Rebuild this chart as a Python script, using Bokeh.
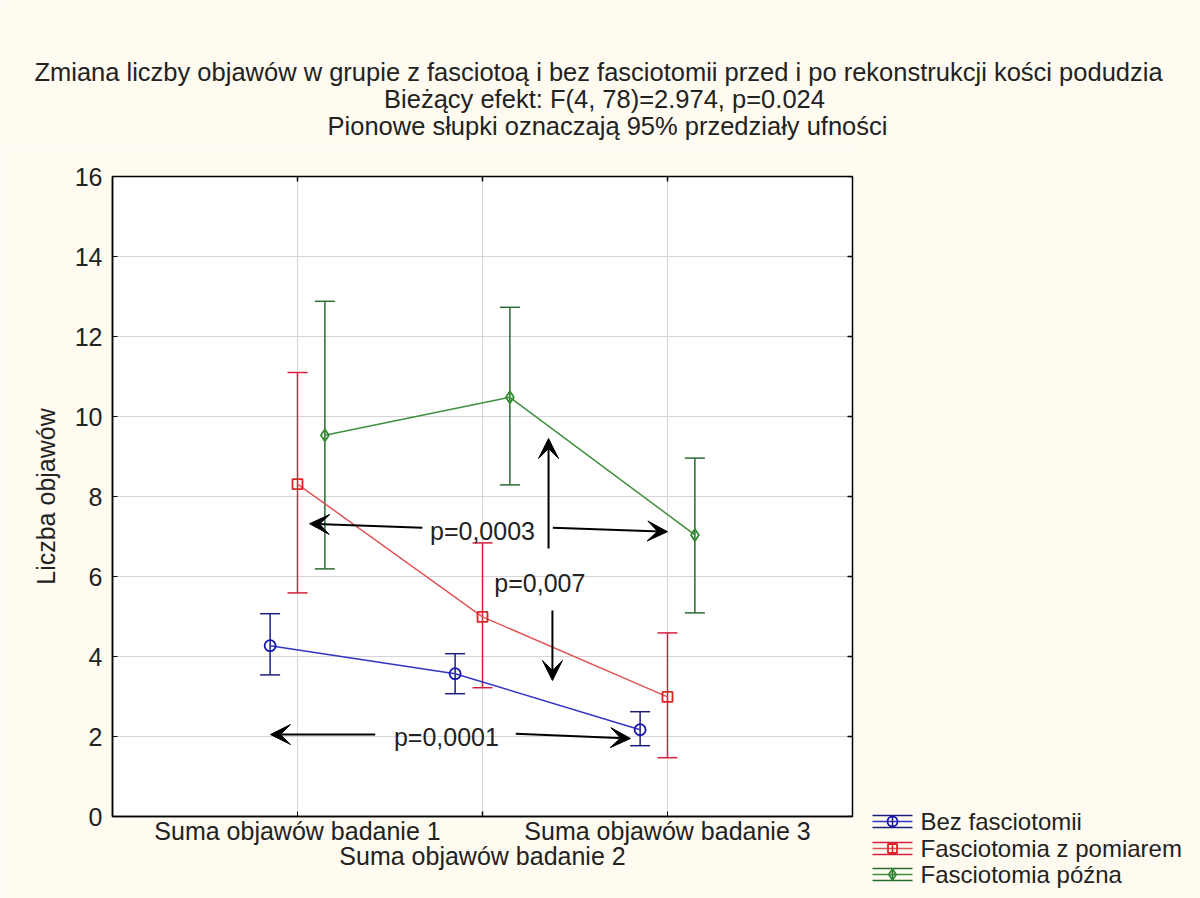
from bokeh.plotting import figure
from bokeh.models import (ColumnDataSource, Whisker, TeeHead, Arrow, VeeHead, FixedTicker,
                          LinearAxis, Range1d, Spacer)
from bokeh.layouts import column, row
from bokeh.embed import file_html
from bokeh.resources import INLINE
from bokeh.core.properties import value

# ---------------- data ----------------
categories = ["Suma objawów badanie 1", "Suma objawów badanie 2", "Suma objawów badanie 3"]
cat_pos = [1, 2, 3]
series_names = ["Bez fasciotomii", "Fasciotomia z pomiarem", "Fasciotomia późna"]

bez_mean = [4.27, 3.57, 2.17]
bez_low = [3.54, 3.07, 1.77]
bez_high = [5.07, 4.07, 2.62]

pom_mean = [8.31, 4.99, 2.99]
pom_low = [5.59, 3.22, 1.47]
pom_high = [11.10, 6.84, 4.59]

poz_mean = [9.53, 10.48, 7.04]
poz_low = [6.19, 8.29, 5.09]
poz_high = [12.88, 12.73, 8.96]

y_ticks = [0, 2, 4, 6, 8, 10, 12, 14, 16]

title_lines = [
    "Zmiana liczby objawów w grupie z fasciotoą i bez fasciotomii przed i po rekonstrukcji kości podudzia",
    "Bieżący efekt: F(4, 78)=2.974, p=0.024",
    "Pionowe słupki oznaczają 95% przedziały ufności",
]
y_title = "Liczba objawów"

p_labels = ["p=0,0003", "p=0,007", "p=0,0001"]
p_label_x = [2.00, 2.31, 1.805]
p_label_y = [7.15, 5.85, 2.00]

arrow_x0 = [1.675, 2.38, 2.357, 2.378, 1.42, 2.18]
arrow_y0 = [7.22, 7.22, 6.70, 5.15, 2.05, 2.07]
arrow_x1 = [1.065, 3.00, 2.357, 2.378, 0.854, 2.80]
arrow_y1 = [7.32, 7.12, 9.45, 3.40, 2.05, 1.95]

# ---------------- style ----------------
FONT_NAME = "Liberation Sans"
FONT = value(FONT_NAME)
BG = "#fffbf1"
TXT = "#222222"
dodge = [-0.148, 0.0, 0.148]
line_colors = ["#3333c4", "#e25555", "#3f8f3f"]
bar_colors = ["#1d1d7c", "#d41f3e", "#2b6a32"]
mark_colors = ["#1414b4", "#e02424", "#2f8c2f"]
markers = ["circle", "square", "diamond"]
mark_sizes = [11, 10, 12]

means = [bez_mean, pom_mean, poz_mean]
lows = [bez_low, pom_low, poz_low]
highs = [bez_high, pom_high, poz_high]

# ---------------- title figure ----------------
tf = figure(width=1200, height=150, x_range=Range1d(0, 1200), y_range=Range1d(150, 0),
            toolbar_location=None, output_backend="svg", x_axis_type=None, y_axis_type=None,
            min_border=0)
tf.grid.visible = False
tf.outline_line_color = None
tf.background_fill_color = BG
tf.border_fill_color = BG
tf.text(x=[598, 604, 607], y=[71, 98, 125], text=title_lines, text_font=FONT,
        text_font_size="25.5px", text_color=TXT, text_align="center", text_baseline="middle")

# ---------------- main figure ----------------
FRAME_W, FRAME_H = 740, 640
X0, X1, Y0, Y1 = 0, 4, 0, 16
p = figure(width=860, height=748, x_range=Range1d(X0, X1), y_range=Range1d(Y0, Y1),
           toolbar_location=None, output_backend="svg",
           min_border_left=112, min_border_right=8, min_border_top=26, min_border_bottom=82)
p.background_fill_color = "white"
p.border_fill_color = BG
p.outline_line_color = "black"
p.outline_line_width = 1.5

yax = p.yaxis[0]
yax.ticker = FixedTicker(ticks=y_ticks)
yax.minor_tick_line_color = None
yax.major_tick_in = 5
yax.major_tick_out = 0
yax.major_label_standoff = 10
yax.major_label_text_font = FONT_NAME
yax.major_label_text_font_size = "25px"
yax.major_label_text_color = TXT
yax.axis_line_color = "black"
yax.axis_line_width = 1.5
yax.axis_label = y_title
yax.axis_label_text_font = FONT_NAME
yax.axis_label_text_font_size = "25px"
yax.axis_label_text_font_style = "normal"
yax.axis_label_text_color = TXT
yax.axis_label_standoff = 12

xax = p.xaxis[0]
xax.ticker = FixedTicker(ticks=[cat_pos[0], cat_pos[2]])
xax.major_label_overrides = {cat_pos[0]: categories[0], cat_pos[2]: categories[2]}
xax.minor_tick_line_color = None
xax.major_tick_in = 5
xax.major_tick_out = 0
xax.major_label_standoff = 0
xax.major_label_text_font = FONT_NAME
xax.major_label_text_font_size = "25px"
xax.major_label_text_color = TXT
xax.axis_line_color = "black"
xax.axis_line_width = 1.5

xax2 = LinearAxis(ticker=FixedTicker(ticks=[cat_pos[1]]),
                  major_label_overrides={cat_pos[1]: categories[1]})
xax2.axis_line_color = None
xax2.major_tick_line_color = None
xax2.minor_tick_line_color = None
xax2.major_tick_in = 0
xax2.major_tick_out = 0
xax2.major_label_standoff = -6
xax2.major_label_text_font = FONT_NAME
xax2.major_label_text_font_size = "25px"
xax2.major_label_text_color = TXT
p.add_layout(xax2, "below")

p.xgrid.ticker = FixedTicker(ticks=cat_pos)
p.ygrid.ticker = FixedTicker(ticks=y_ticks)
p.xgrid.grid_line_color = "#d6d6d6"
p.ygrid.grid_line_color = "#d6d6d6"

# inward ticks on the top, right and (middle) bottom frame edges
tick_px = 5
dx = tick_px * (X1 - X0) / FRAME_W
dy = tick_px * (Y1 - Y0) / FRAME_H
p.segment(x0=cat_pos, y0=[Y1] * len(cat_pos), x1=cat_pos, y1=[Y1 - dy] * len(cat_pos),
          line_color="black", line_width=1.5)
p.segment(x0=[cat_pos[1]], y0=[Y0], x1=[cat_pos[1]], y1=[Y0 + dy],
          line_color="black", line_width=1.5)
p.segment(x0=[X1] * len(y_ticks), y0=y_ticks, x1=[X1 - dx] * len(y_ticks), y1=y_ticks,
          line_color="black", line_width=1.5)

# series
for i in range(3):
    xs = [c + dodge[i] for c in cat_pos]
    src = ColumnDataSource(dict(x=xs, mean=means[i], low=lows[i], high=highs[i]))
    p.line("x", "mean", source=src, line_color=line_colors[i], line_width=1.5)
    w = Whisker(source=src, base="x", lower="low", upper="high", dimension="height",
                line_color=bar_colors[i], line_width=1.5,
                upper_head=TeeHead(size=20, line_color=bar_colors[i], line_width=1.5),
                lower_head=TeeHead(size=20, line_color=bar_colors[i], line_width=1.5))
    p.add_layout(w)
    p.scatter("x", "mean", source=src, marker=markers[i], size=mark_sizes[i],
              line_color=mark_colors[i], fill_color=None, line_width=1.8)

# arrows
asrc = ColumnDataSource(dict(x0=arrow_x0, y0=arrow_y0, x1=arrow_x1, y1=arrow_y1))
p.add_layout(Arrow(source=asrc, x_start="x0", y_start="y0", x_end="x1", y_end="y1",
                   line_color="black", line_width=2,
                   end=VeeHead(size=20, fill_color="black", line_color="black", line_width=1)))

psrc = ColumnDataSource(dict(x=p_label_x, y=p_label_y, t=p_labels))
p.text("x", "y", text="t", source=psrc, text_font=FONT, text_font_size="25px",
       text_color=TXT, text_align="center", text_baseline="middle")

# ---------------- legend figure (page coordinates: x 860..1200, y 805..898) ----------------
lf = figure(width=340, height=93, x_range=Range1d(860, 1200), y_range=Range1d(898, 805),
            toolbar_location=None, output_backend="svg", x_axis_type=None, y_axis_type=None,
            min_border=0)
lf.grid.visible = False
lf.outline_line_color = None
lf.background_fill_color = BG
lf.border_fill_color = BG

row_y = [821, 848, 874]
gx0, gx1, gxc, cap = 872, 912, 892, 6
for i in range(3):
    yc = row_y[i]
    lf.segment(x0=[gx0, gx0, gx0], y0=[yc - cap, yc, yc + cap],
               x1=[gx1, gx1, gx1], y1=[yc - cap, yc, yc + cap],
               line_color=[bar_colors[i], line_colors[i], bar_colors[i]], line_width=1.5)
    lf.segment(x0=[gxc], y0=[yc - cap], x1=[gxc], y1=[yc + cap],
               line_color=bar_colors[i], line_width=1.5)
    lf.scatter(x=[gxc], y=[yc], marker=markers[i], size=mark_sizes[i] - 1,
               line_color=mark_colors[i], fill_color=None, line_width=1.8)
lf.text(x=[920, 920, 920], y=row_y, text=series_names, text_font=FONT, text_font_size="24px",
        text_color=TXT, text_align="left", text_baseline="middle")

right_col = column(Spacer(width=340, height=748 - 93, styles={"background-color": BG}), lf)
layout = column(tf, row(p, right_col))
open("out.html", "w").write(file_html(layout, INLINE))
